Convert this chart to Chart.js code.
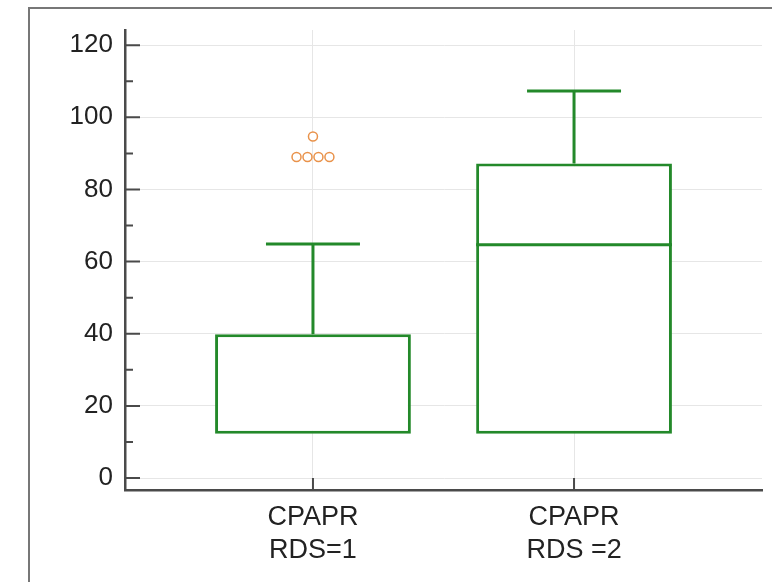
<!DOCTYPE html>
<html>
<head>
<meta charset="utf-8">
<script src="https://cdn.jsdelivr.net/npm/chart.js@4/dist/chart.umd.min.js"></script>
<style>
    html, body { margin: 0; padding: 0; background: #fff; }
    #wrap { position: relative; width: 772px; height: 582px; overflow: hidden; }
    #frame { position: absolute; left: 28px; top: 7px; width: 800px; height: 700px; border: 2px solid #777; }
    #chart { position: absolute; left: 0; top: 0; }
</style>
</head>
<body>
<div id="wrap">
    <div id="frame"></div>
    <canvas id="chart" width="772" height="582"></canvas>
</div>
<script>
// box plot stats, one entry per group
const categories = [['CPAPR', 'RDS=1'], ['CPAPR', 'RDS =2']];
const whiskerLow = [12.3, 12.3];
const q1 = [12.3, 12.3];
const median = [12.3, 64.7];
const q3 = [39.9, 87.2];
const whiskerHigh = [64.9, 107.3];
const outliers = [[94.7, 89, 89, 89, 89], []];
const yTicks = [0, 20, 40, 60, 80, 100, 120];

const green = '#23892a';
const orange = '#e9924a';
const axisColor = '#4a4a4a';
const gridColor = '#e6e6e6';
const boxHalf = 0.375;
const capHalf = 0.18;
const jitter = 0.042;

function seg(points, order) {
    return {
        type: 'line',
        data: points,
        borderColor: green,
        borderWidth: 3,
        pointRadius: 0,
        fill: false,
        order: order
    };
}

let datasets = [];

datasets.push({
    type: 'bar',
    data: categories.map((c, i) => ({ x: i + 1, y: [q1[i], q3[i]] })),
    backgroundColor: '#fff',
    borderColor: green,
    borderWidth: 3,
    borderSkipped: false,
    categoryPercentage: 1,
    barPercentage: boxHalf * 2,
    order: 3
});

categories.forEach((c, i) => {
    let cx = i + 1;
    datasets.push(seg([{ x: cx, y: q3[i] }, { x: cx, y: whiskerHigh[i] }], 2));
    datasets.push(seg([{ x: cx - capHalf, y: whiskerHigh[i] }, { x: cx + capHalf, y: whiskerHigh[i] }], 2));
    if (whiskerLow[i] < q1[i]) {
        datasets.push(seg([{ x: cx, y: q1[i] }, { x: cx, y: whiskerLow[i] }], 2));
        datasets.push(seg([{ x: cx - capHalf, y: whiskerLow[i] }, { x: cx + capHalf, y: whiskerLow[i] }], 2));
    }
    // a median lying on the box edge is already drawn by the box border
    if (median[i] > q1[i] && median[i] < q3[i]) {
        datasets.push(seg([{ x: cx - boxHalf, y: median[i] }, { x: cx + boxHalf, y: median[i] }], 2));
    }
});

// outliers: equal values are spread sideways around the group centre
let outlierPoints = [];
outliers.forEach((vals, i) => {
    let counts = {};
    vals.forEach(v => { counts[v] = (counts[v] || 0) + 1; });
    let seen = {};
    vals.forEach(v => {
        let n = counts[v];
        let k = seen[v] || 0;
        seen[v] = k + 1;
        outlierPoints.push({ x: i + 1 + (k - (n - 1) / 2) * jitter, y: v });
    });
});

datasets.push({
    type: 'scatter',
    data: outlierPoints,
    pointStyle: 'circle',
    pointRadius: 4.5,
    borderWidth: 1.5,
    borderColor: orange,
    backgroundColor: '#fff',
    order: 1
});

const innerTicks = {
    id: 'innerTicks',
    afterDatasetsDraw(chart) {
        const { ctx, chartArea, scales: { x, y } } = chart;
        ctx.save();
        ctx.strokeStyle = axisColor;
        ctx.lineWidth = 2;
        ctx.beginPath();
        for (let k = 0; k < yTicks.length; k++) {
            let py = y.getPixelForValue(yTicks[k]);
            ctx.moveTo(chartArea.left, py);
            ctx.lineTo(chartArea.left + 15, py);
            if (k < yTicks.length - 1) {
                let my = y.getPixelForValue((yTicks[k] + yTicks[k + 1]) / 2);
                ctx.moveTo(chartArea.left, my);
                ctx.lineTo(chartArea.left + 8, my);
            }
        }
        categories.forEach((c, i) => {
            let px = x.getPixelForValue(i + 1);
            ctx.moveTo(px, chartArea.bottom);
            ctx.lineTo(px, chartArea.bottom - 12);
        });
        ctx.stroke();
        ctx.restore();
    }
};

new Chart(document.getElementById('chart').getContext('2d'), {
    data: { datasets: datasets },
    options: {
        responsive: false,
        animation: false,
        layout: {
            padding: { left: 0, right: 10, top: 30, bottom: 0 }
        },
        plugins: {
            legend: { display: false },
            tooltip: { enabled: false }
        },
        scales: {
            x: {
                type: 'linear',
                min: 0.28,
                max: 2.72,
                offset: false,
                afterBuildTicks: scale => { scale.ticks = categories.map((c, i) => ({ value: i + 1 })); },
                afterFit: scale => { scale.height = 92; },
                grid: { color: gridColor, drawTicks: false, offset: false },
                border: { color: axisColor, width: 2.5 },
                ticks: {
                    autoSkip: false,
                    maxRotation: 0,
                    padding: 11,
                    color: '#222',
                    font: { family: 'Liberation Sans, Arial, sans-serif', size: 27, lineHeight: 1.22 },
                    callback: value => categories[Math.round(value) - 1]
                }
            },
            y: {
                min: -3.3,
                max: 124.2,
                afterBuildTicks: scale => { scale.ticks = yTicks.map(v => ({ value: v })); },
                afterFit: scale => { scale.width = 125; },
                grid: { color: gridColor, drawTicks: false },
                border: { color: axisColor, width: 2.5 },
                ticks: {
                    padding: 12,
                    color: '#222',
                    font: { family: 'Liberation Sans, Arial, sans-serif', size: 26 }
                }
            }
        }
    },
    plugins: [innerTicks]
});
</script>
</body>
</html>
